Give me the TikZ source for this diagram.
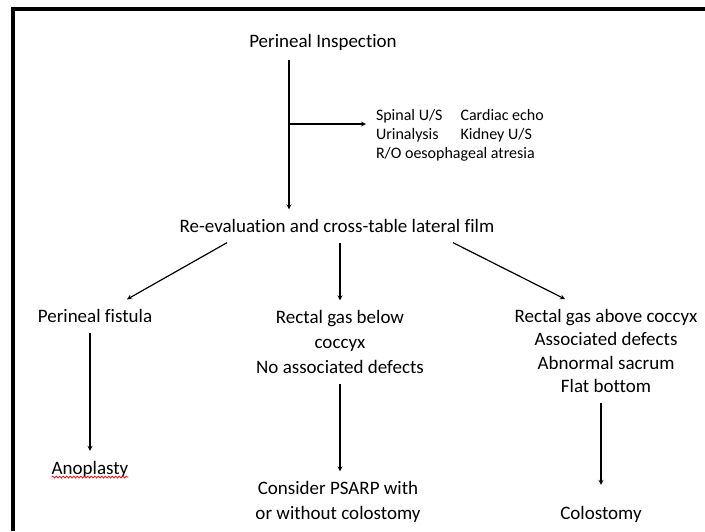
\documentclass[tikz,border=0pt]{standalone}
\usepackage{fontspec}
\setmainfont{Carlito}[Ligatures=NoCommon]
\usetikzlibrary{decorations.pathmorphing}

\begin{document}
\begin{tikzpicture}[x=1pt,y=-1pt,>=stealth,line width=1.2pt,
  every node/.style={inner sep=3pt,outer sep=7pt,align=center,font=\fontsize{19}{25}\selectfont},
  small/.style={font=\fontsize{16}{19}\selectfont,align=left}]
		\useasboundingbox (0,0) rectangle (705,531);
		\draw[line width=3.5pt] (13,531) -- (13,9) -- (705,9);

		% create the nodes
		\node (insp) at (323,42) {Perineal Inspection};
		\node (tests) [small,anchor=west] at (366,136) {\begin{tabular}{@{}l@{\hspace{18pt}}l@{}}Spinal U/S & Cardiac echo\\ Urinalysis & Kidney U/S\\ \multicolumn{2}{@{}l@{}}{R/O oesophageal atresia}\end{tabular}};
		\node (reeval) at (337,226) {Re-evaluation and cross-table lateral film};
		\node (fist) at (95,316) {Perineal fistula};
		\node (gasbelow) at (340,342) {Rectal gas below\\coccyx\\No associated defects};
		\node (gasabove) [font=\fontsize{19}{23.5}\selectfont] at (606,351) {Rectal gas above coccyx\\Associated defects\\Abnormal sacrum\\Flat bottom};
		\node (ano) at (90,469) {Anoplasty};
		\node (psarp) at (338,502) {Consider PSARP with\\or without colostomy};
		\node (colo) at (601,514) {Colostomy};
		\coordinate (fork) at (289,124);

		% connect the nodes
		\draw (insp.south -| fork) -- (fork);
		\draw[->] (fork) -- (fork |- reeval.north);
		\draw[->] (fork) -- (fork -| tests.west);
		\draw[->] ([xshift=-110pt]reeval.south) -- ([xshift=32pt]fist.north);
		\draw[->] (reeval.south -| gasbelow) -- (gasbelow.north);
		\draw[->] ([xshift=116pt]reeval.south) -- ([xshift=-41pt]gasabove.north);
		\draw[->] (fist.south -| ano) -- (ano.north);
		\draw[->] (gasbelow.south) -- (gasbelow.south |- psarp.north);
		\draw[->] (gasabove.south -| colo) -- ([yshift=11pt]colo.north);

		% spelling underline
		\draw[red,line width=0.7pt,decorate,decoration={snake,amplitude=1pt,segment length=3.5pt}] ([xshift=10pt,yshift=-3pt]ano.base west) -- ([xshift=-10pt,yshift=-3pt]ano.base east);
	\end{tikzpicture}
\end{document}
